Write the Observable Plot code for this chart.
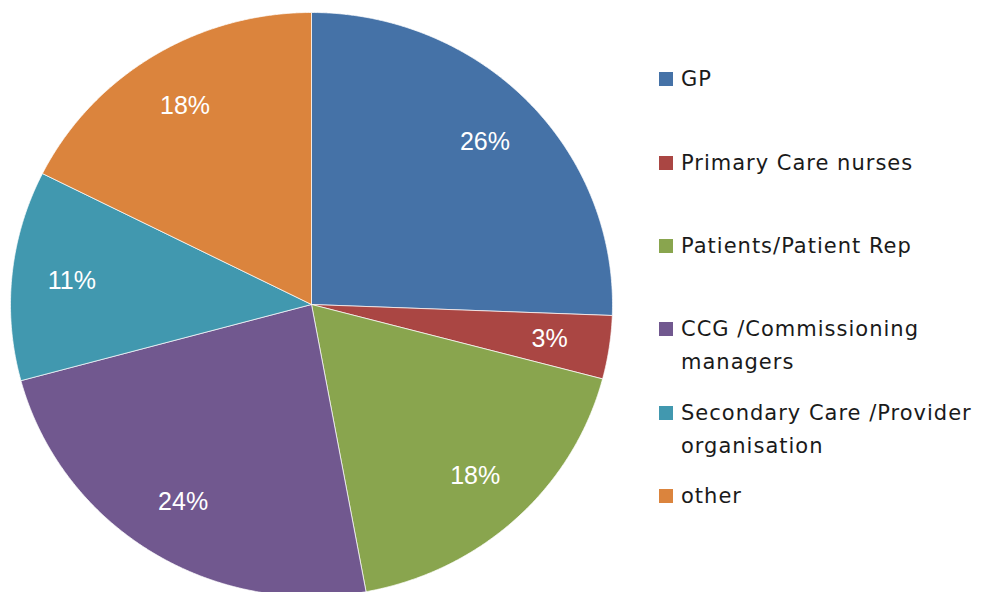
<!DOCTYPE html>
<html>
<head>
<meta charset="utf-8">
<script src="https://cdn.jsdelivr.net/npm/d3@7"></script>
<script src="https://cdn.jsdelivr.net/npm/@observablehq/plot@0.6"></script>
<style>
  html, body { margin: 0; padding: 0; background: #fff; }
  #wrap { position: relative; width: 982px; height: 592px; overflow: hidden; }
  #chart { position: absolute; left: 0; top: 0; }
  .item { position: absolute; left: 659px; width: 322px; font-family: "DejaVu Sans", Verdana, sans-serif;
          font-size: 21px; letter-spacing: 1.0px; line-height: 33px; color: #1a1a1a; }
  .sw { position: absolute; left: 0; top: 9px; width: 14px; height: 14px; }
  .tx { margin-left: 22px; width: 300px; }
</style>
</head>
<body>
<div id="wrap"><div id="chart"></div><div id="legend"></div></div>
<script>
const categories = ["GP", "Primary Care nurses", "Patients/Patient Rep", "CCG /Commissioning managers", "Secondary Care /Provider organisation", "other"];
const values = [25.6, 3.5, 18.0, 23.7, 11.6, 17.6];
const labels = ["26%", "3%", "18%", "24%", "11%", "18%"];
const colors = ["#4572A7", "#AA4643", "#89A54E", "#71588F", "#4198AF", "#DB843D"];

const pie = d3.pie().sort(null).value(d => d)(values);

// polygon points for each slice, computed from the pie layout
const pts = [];
pie.forEach((s, i) => {
  const n = Math.max(2, Math.ceil((s.endAngle - s.startAngle) / 0.005));
  pts.push({name: categories[i], color: colors[i], x: 0, y: 0});
  for (let k = 0; k <= n; k++) {
    const a = s.startAngle + (s.endAngle - s.startAngle) * k / n;
    pts.push({name: categories[i], color: colors[i], x: Math.sin(a), y: -Math.cos(a)});
  }
  pts.push({name: categories[i], color: colors[i], x: 0, y: 0});
});

const lab = pie.map((s, i) => {
  const a = (s.startAngle + s.endAngle) / 2;
  return {text: labels[i], x: 0.8 * Math.sin(a), y: -0.8 * Math.cos(a)};
});

const chart = Plot.plot({
  width: 640,
  height: 592,
  margin: 0,
  x: {domain: [-1, 1], range: [10, 612], axis: null},
  y: {domain: [-1, 1], range: [12, 596], axis: null},
  color: {type: "identity"},
  marks: [
    Plot.line(pts, {x: "x", y: "y", z: "name", fill: "color", stroke: "#ffffff", strokeWidth: 1, strokeOpacity: 0.7, curve: "linear"}),
    Plot.text(lab, {x: "x", y: "y", text: "text", fill: "white", fontSize: 25, fontFamily: "Liberation Sans, Arial, sans-serif"})
  ]
});
document.getElementById("chart").appendChild(chart);

const legend = document.getElementById("legend");
categories.forEach((c, i) => {
  const it = document.createElement("div");
  it.className = "item";
  it.style.top = (63.4 + i * 83.3) + "px";
  it.innerHTML = `<div class="sw" style="background:${colors[i]}"></div><div class="tx">${c}</div>`;
  legend.appendChild(it);
});
</script>
</body>
</html>
